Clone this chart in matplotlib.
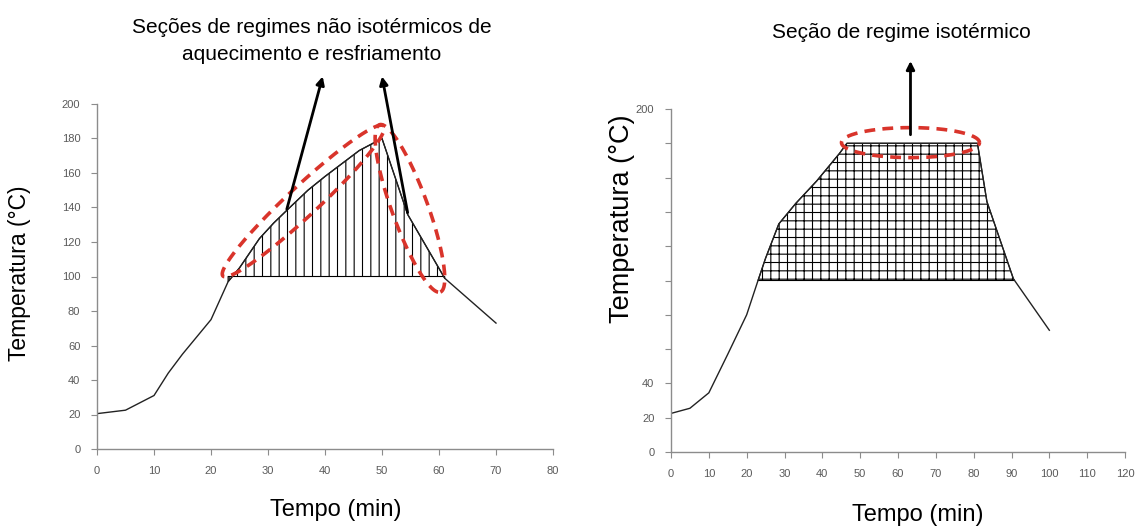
import numpy as np
import matplotlib
matplotlib.use('Agg')
import matplotlib.pyplot as plt

plt.rcParams['font.family'] = ['Liberation Sans', 'DejaVu Sans']
plt.rcParams['hatch.linewidth'] = 0.8

# left chart: non isothermal run
t_left = [0, 5, 10, 12.5, 15, 20, 23, 25, 28.5, 31, 33.5, 37, 40, 44, 46, 50, 54.5, 61, 70]
T_left = [20.5, 22.5, 31, 44, 55, 75, 97, 105, 122, 131, 139, 150, 158, 168, 173, 180, 136, 99, 73]

# right chart: isothermal run
t_right = [0, 5, 10, 15, 20, 23, 25, 28.5, 33, 38.5, 44.5, 46.5, 81, 83.5, 90.5, 100]
T_right = [22.5, 25.5, 34.5, 57, 80, 100, 113, 133, 145, 158, 174, 180, 180, 146, 101, 71]

base_T = 100

left_xticks = list(range(0, 81, 10))
left_yticks = list(range(0, 201, 20))
right_xticks = list(range(0, 121, 10))
right_yticks = list(range(0, 201, 20))
right_ylabels = ['0', '20', '40', '', '', '', '', '', '', '', '200']

title_left = 'Seções de regimes não isotérmicos de\naquecimento e resfriamento'
title_right = 'Seção de regime isotérmico'

RED = '#d9342b'
TICK = '#5a5a5a'
SPINE = '#8c8c8c'

W, H = 1139, 528
fig = plt.figure(figsize=(W / 100, H / 100), dpi=100)


def px_axes(x0, y0, x1, y1):
    # pixel box (left, top of 200, right, zero line) -> axes rect
    return fig.add_axes([x0 / W, 1 - y1 / H, (x1 - x0) / W, (y1 - y0) / H])


def style(ax, xlim, ylim, xticks, yticks, ylabels=None):
    ax.set_xlim(*xlim)
    ax.set_ylim(*ylim)
    ax.set_xticks(xticks)
    ax.set_yticks(yticks)
    if ylabels is not None:
        ax.set_yticklabels(ylabels)
    for s in ['top', 'right']:
        ax.spines[s].set_visible(False)
    for s in ['left', 'bottom']:
        ax.spines[s].set_color(SPINE)
        ax.spines[s].set_linewidth(1.0)
    ax.tick_params(length=4, width=0.8, color=SPINE, labelcolor=TICK, labelsize=8)
    ax.tick_params(axis='x', pad=8)
    ax.tick_params(axis='y', pad=8)


def tilted_ellipse(ax, center, a, b, angle, **kw):
    # a, b in pixels, angle in degrees in screen space
    cx, cy = ax.transData.transform(center)
    th = np.linspace(0, 2 * np.pi, 300)
    r = np.deg2rad(angle)
    x = a * np.cos(th)
    y = b * np.sin(th)
    xs = cx + x * np.cos(r) - y * np.sin(r)
    ys = cy + x * np.sin(r) + y * np.cos(r)
    pts = ax.transData.inverted().transform(np.column_stack([xs, ys]))
    ax.plot(pts[:, 0], pts[:, 1], clip_on=False, **kw)


ell_kw = dict(color=RED, lw=2.6, ls=(0, (3, 2)))
arrow_kw = dict(arrowstyle='-|>', color='black', lw=2.0, mutation_scale=12,
                shrinkA=0, shrinkB=0)

# ---- left
ax1 = px_axes(97, 104, 553, 449)
style(ax1, (0, 80), (0, 200), left_xticks, left_yticks)
tl = np.array(t_left)
Tl = np.array(T_left)
ax1.fill_between(tl, base_T, Tl, where=Tl >= base_T - 3, interpolate=True,
                 facecolor='white', edgecolor='black', hatch='||', lw=0.8)
ax1.plot(tl, Tl, color='#222222', lw=1.0)
tilted_ellipse(ax1, (36.2, 143.8), 110, 15, 43, **ell_kw)
tilted_ellipse(ax1, (54.9, 139.5), 89, 18, -70, **ell_kw)
ax1.annotate('', xy=(39.6, 216), xytext=(33.3, 139), arrowprops=arrow_kw,
             annotation_clip=False)
ax1.annotate('', xy=(50.0, 216), xytext=(54.5, 137), arrowprops=arrow_kw,
             annotation_clip=False)

fig.text(312 / W, 1 - 41 / H, title_left, ha='center', va='center',
         fontsize=15, linespacing=1.5)
fig.text(20 / W, 1 - 273 / H, 'Temperatura (°C)', rotation=90, ha='center',
         va='center', fontsize=16.5)
fig.text(336 / W, 1 - 510 / H, 'Tempo (min)', ha='center', va='center', fontsize=17)

# ---- right
ax2 = px_axes(671, 109, 1125, 452)
style(ax2, (0, 120), (0, 200), right_xticks, right_yticks, right_ylabels)
tr = np.array(t_right)
Tr = np.array(T_right)
ax2.fill_between(tr, base_T, Tr, where=Tr >= base_T, interpolate=True,
                 facecolor='white', edgecolor='black', hatch='++', lw=0.8)
ax2.plot(tr, Tr, color='#222222', lw=1.0)
tilted_ellipse(ax2, (63.3, 180.4), 69, 15, 0, **ell_kw)
ax2.annotate('', xy=(63.3, 228), xytext=(63.3, 185), arrowprops=arrow_kw,
             annotation_clip=False)

fig.text(901 / W, 1 - 33 / H, title_right, ha='center', va='center', fontsize=15)
fig.text(622 / W, 1 - 219 / H, 'Temperatura (°C)', rotation=90, ha='center',
         va='center', fontsize=19.5)
fig.text(918 / W, 1 - 515 / H, 'Tempo (min)', ha='center', va='center', fontsize=17)

fig.savefig('out.png', dpi=100)
